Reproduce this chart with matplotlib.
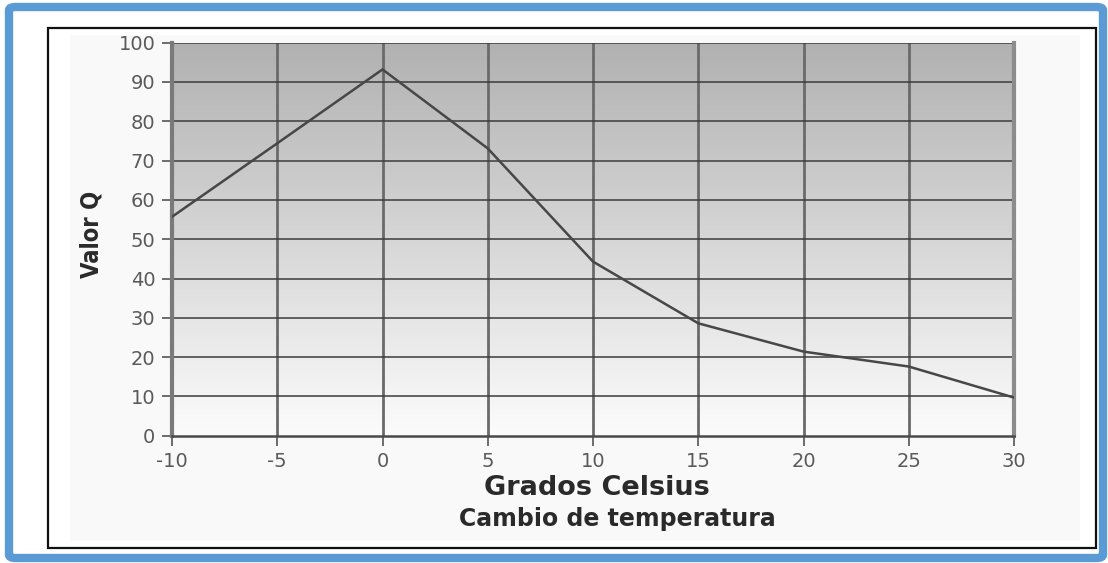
import numpy as np
import matplotlib
matplotlib.use("Agg")
import matplotlib.pyplot as plt
from matplotlib import font_manager
from matplotlib.patches import Rectangle, FancyBboxPatch

# =====================================
# Data
# =====================================
grados = [-10, -5, 0, 5, 10, 15, 20, 25, 30]
valor_q = [55.7, 74.4, 93.2, 73.1, 44.3, 28.6, 21.4, 17.6, 9.7]

x_ticks = [-10, -5, 0, 5, 10, 15, 20, 25, 30]
x_labels = ["-10", "-5", "0", "5", "10", "15", "20", "25", "30"]
y_ticks = [0, 10, 20, 30, 40, 50, 60, 70, 80, 90, 100]

W, H = 1108, 563

# narrow font for the rotated label, if there is one
names = {f.name for f in font_manager.fontManager.ttflist}
narrow = "Liberation Sans Narrow" if "Liberation Sans Narrow" in names else "DejaVu Sans"

# =====================================
# Figure + frames
# =====================================
fig = plt.figure(figsize=(W / 100, H / 100), dpi=100)
fig.patch.set_facecolor("white")

def px(x, y, w, h):
    # pixel box (top-left origin) -> figure fraction
    return (x / W, 1 - (y + h) / H, w / W, h / H)

# blue outer frame
bx, by, bw, bh = px(9, 7, 1094, 551)
fig.patches.append(FancyBboxPatch((bx, by), bw, bh, boxstyle="round,pad=0,rounding_size=0.006",
                                  transform=fig.transFigure, fill=False,
                                  edgecolor="#5b9bd5", linewidth=6, zorder=-2))

# light panel + black border
px0, py0, pw, ph = px(70, 35, 1010, 506)
fig.patches.append(Rectangle((px0, py0), pw, ph, transform=fig.transFigure,
                             facecolor="#f9f9f9", edgecolor="none", zorder=-2))
kx, ky, kw, kh = px(48, 28, 1048, 520)
fig.patches.append(Rectangle((kx, ky), kw, kh, transform=fig.transFigure,
                             fill=False, edgecolor="#111111", linewidth=1.6, zorder=-1))

# =====================================
# Plot area
# =====================================
ax = fig.add_axes(px(172, 42.7, 842, 393))
ax.set_zorder(5)
ax.set_xlim(-10, 30)
ax.set_ylim(0, 100)

# gray gradient background (dark at top)
grad = np.linspace(0, 1, 256).reshape(-1, 1)
cmap = matplotlib.colors.LinearSegmentedColormap.from_list("g", ["#fcfcfc", "#b1b1b1"])
ax.imshow(grad, aspect="auto", cmap=cmap, origin="lower",
          extent=(-10, 30, 0, 100), zorder=0)

# grid lines
for x in x_ticks[1:-1]:
    ax.axvline(x, color="#6a6a6a", linewidth=2.0, zorder=1)
for y in y_ticks[1:]:
    ax.axhline(y, color="#3c3c3c", linewidth=1.1, zorder=1)

ax.plot(grados, valor_q, color="#474747", linewidth=1.8, zorder=3)

ax.spines["top"].set_visible(False)
ax.spines["left"].set_color("#7a7a7a")
ax.spines["left"].set_linewidth(3.0)
ax.spines["right"].set_color("#8c8c8c")
ax.spines["right"].set_linewidth(3.0)
ax.spines["bottom"].set_color("#4a4a4a")
ax.spines["bottom"].set_linewidth(1.8)

ax.set_xticks(x_ticks)
ax.set_xticklabels(x_labels)
ax.set_yticks(y_ticks)
ax.tick_params(axis="both", direction="out", length=7, width=1.2, color="#555555",
               labelsize=14, labelcolor="#5a5a5a", pad=5)

# =====================================
# Axis texts
# =====================================
fig.text(597 / W, 1 - 488 / H, "Grados Celsius", ha="center", va="center",
         fontsize=19.5, fontweight="bold", color="#2a2a2a")
fig.text(617 / W, 1 - 519 / H, "Cambio de temperatura", ha="center", va="center",
         fontsize=17, fontweight="bold", color="#2a2a2a")
fig.text(92 / W, 1 - 234 / H, "Valor Q", ha="center", va="center", rotation=90,
         fontsize=17, fontweight="bold", fontfamily=narrow, fontstretch="condensed",
         color="#2a2a2a")

plt.savefig("out.png", dpi=100)
